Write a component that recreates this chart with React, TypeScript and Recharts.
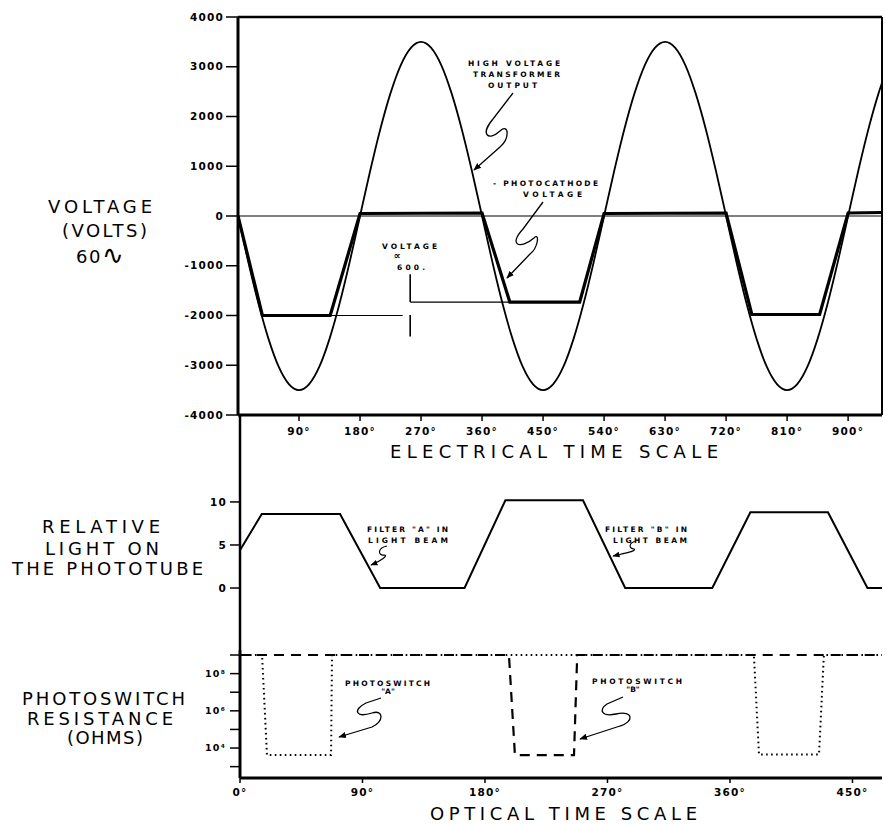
import React from "react";
import { LineChart, Line, XAxis, YAxis, ReferenceLine } from "recharts";

const FONT = "'DejaVu Sans', Verdana, sans-serif";

// electrical time scale (degrees) and the two voltage traces
const elecDeg = [
  0, 15, 30, 45, 60, 75, 90, 105, 120, 135, 150, 165, 180, 195, 210, 225, 240, 255, 270, 285, 300, 315,
  330, 345, 360, 375, 390, 405, 420, 435, 450, 465, 480, 495, 510, 525, 540, 555, 570, 585, 600, 615,
  630, 645, 660, 675, 690, 705, 720, 735, 750, 765, 780, 795, 810, 825, 840, 855, 870, 885, 900, 915,
  930, 945, 950,
];
const hvVolts = [
  0, -910, -1750, -2470, -3030, -3380, -3500, -3380, -3030, -2470, -1750, -910, 0, 910, 1750, 2470,
  3030, 3380, 3500, 3380, 3030, 2470, 1750, 910, 0, -910, -1750, -2470, -3030, -3380, -3500, -3380,
  -3030, -2470, -1750, -910, 0, 910, 1750, 2470, 3030, 3380, 3500, 3380, 3030, 2470, 1750, 910, 0,
  -910, -1750, -2470, -3030, -3380, -3500, -3380, -3030, -2470, -1750, -910, 0, 910, 1750, 2470, 2680,
];
const pcDeg = [0, 36, 136, 180, 360, 401, 504, 540, 720, 758, 858, 900, 950];
const pcVolts = [0, -2000, -2000, 50, 60, -1730, -1730, 50, 60, -1980, -1980, 60, 70];
const elecTicks = [90, 180, 270, 360, 450, 540, 630, 720, 810, 900];
const voltTicks = [-4000, -3000, -2000, -1000, 0, 1000, 2000, 3000, 4000];

// relative light on the phototube (optical degrees)
const lightDeg = [0, 16, 73.5, 103, 165, 195, 252, 283, 347, 375, 432, 461, 472];
const lightLevel = [4.4, 8.6, 8.6, 0, 0, 10.2, 10.2, 0, 0, 8.8, 8.8, 0, 0];
const lightTicks = [0, 5, 10];

// photoswitch resistance (ohms)
const switchADeg = [0, 16.2, 19.8, 66.9, 67.6, 377.6, 381.3, 425.4, 429, 472];
const switchAOhms = [1e9, 1e9, 4200, 4200, 1e9, 1e9, 4500, 4500, 1e9, 1e9];
const switchBDeg = [0, 197.6, 202, 245.4, 247.6, 247.6, 472];
const switchBOhms = [1e9, 1e9, 4200, 4200, 4.2e8, 1e9, 1e9];
const optTicks = [0, 90, 180, 270, 360, 450];
const ohmTicks = [1e3, 1e4, 1e5, 1e6, 1e7, 1e8, 1e9];
const ohmLabels: Record<number, string> = { 4: "10⁴", 6: "10⁶", 8: "10⁸" };

const zip = (xs: number[], ys: number[]) => xs.map((x, i) => ({ deg: x, v: ys[i] }));

const tickStyle = { fill: "#000", fontSize: 10.5, fontWeight: 700, fontFamily: FONT, letterSpacing: 1.2 };
const axisStyle = { stroke: "#000", strokeWidth: 3 };
const tickLine = { stroke: "#000", strokeWidth: 1.5 };

const big = { fontFamily: FONT, fontSize: 18, fill: "#000" } as const;
const small = { fontFamily: FONT, fontSize: 7.5, fontWeight: 700, fill: "#000" } as const;

const Label = ({ x, y, w, children, s = big }: any) => (
  <text x={x} y={y} textLength={w} lengthAdjust="spacing" style={s}>
    {children}
  </text>
);

export default function App() {
  const hvData = zip(elecDeg, hvVolts);
  const pcData = zip(pcDeg, pcVolts);
  const lightData = zip(lightDeg, lightLevel);
  const aData = zip(switchADeg, switchAOhms);
  const bData = zip(switchBDeg, switchBOhms);

  return (
    <div style={{ position: "absolute", left: 0, top: 0, width: 886, height: 824, background: "#fff" }}>
      <div style={{ position: "absolute", left: 0, top: 0 }}>
        <LineChart width={886} height={440} margin={{ top: 17, right: 4, bottom: 0, left: 0 }}>
          <XAxis
            dataKey="deg"
            type="number"
            domain={[0, 950]}
            ticks={elecTicks}
            interval={0}
            tickFormatter={(d) => `${d}°`}
            height={25}
            tickSize={6}
            tickMargin={7}
            axisLine={axisStyle}
            tickLine={tickLine}
            tick={tickStyle}
            allowDataOverflow
          />
          <YAxis
            type="number"
            domain={[-4000, 4000]}
            ticks={voltTicks}
            interval={0}
            width={238}
            tickSize={12}
            tickMargin={2}
            axisLine={axisStyle}
            tickLine={tickLine}
            tick={tickStyle}
            allowDataOverflow
          />
          <ReferenceLine y={4000} stroke="#000" strokeWidth={2.5} />
          <ReferenceLine x={950} stroke="#000" strokeWidth={2} />
          <ReferenceLine y={0} stroke="#000" strokeWidth={1.2} />
          <ReferenceLine segment={[{ x: 136, y: -2000 }, { x: 243, y: -2000 }]} stroke="#000" strokeWidth={1} />
          <ReferenceLine segment={[{ x: 254, y: -1730 }, { x: 401, y: -1730 }]} stroke="#000" strokeWidth={1.2} />
          <ReferenceLine segment={[{ x: 254, y: -1170 }, { x: 254, y: -1730 }]} stroke="#000" strokeWidth={1.6} />
          <ReferenceLine segment={[{ x: 254, y: -1990 }, { x: 254, y: -2420 }]} stroke="#000" strokeWidth={1.6} />
          <Line data={hvData} dataKey="v" type="monotone" stroke="#000" strokeWidth={1.8} dot={false} isAnimationActive={false} />
          <Line data={pcData} dataKey="v" type="linear" stroke="#000" strokeWidth={3.2} dot={false} isAnimationActive={false} />
        </LineChart>
      </div>

      <div style={{ position: "absolute", left: 0, top: 415 }}>
        <LineChart width={886} height={235} margin={{ top: 0, right: 4, bottom: 0, left: 0 }}>
          <XAxis dataKey="deg" type="number" domain={[0, 471.7]} hide allowDataOverflow />
          <YAxis
            type="number"
            domain={[-7.2, 20.1]}
            ticks={lightTicks}
            interval={0}
            width={240}
            tickSize={10}
            tickMargin={3}
            axisLine={{ stroke: "#000", strokeWidth: 2.5 }}
            tickLine={tickLine}
            tick={tickStyle}
            allowDataOverflow
          />
          <Line data={lightData} dataKey="v" type="linear" stroke="#000" strokeWidth={2} dot={false} isAnimationActive={false} />
        </LineChart>
      </div>

      <div style={{ position: "absolute", left: 0, top: 650 }}>
        <LineChart width={886} height={152} margin={{ top: 0, right: 4, bottom: 0, left: 0 }}>
          <XAxis
            dataKey="deg"
            type="number"
            domain={[0, 471.7]}
            ticks={optTicks}
            interval={0}
            tickFormatter={(d) => `${d}°`}
            height={24}
            tickSize={5}
            tickMargin={6}
            axisLine={axisStyle}
            tickLine={tickLine}
            tick={tickStyle}
            allowDataOverflow
          />
          <YAxis
            type="number"
            scale="log"
            domain={[245, 1.86e9]}
            ticks={ohmTicks}
            interval={0}
            width={240}
            tickSize={10}
            tickMargin={4}
            tickFormatter={(v) => ohmLabels[Math.round(Math.log10(v))] ?? ""}
            axisLine={axisStyle}
            tickLine={tickLine}
            tick={{ ...tickStyle, fontSize: 9.5 }}
            allowDataOverflow
          />
          <Line data={aData} dataKey="v" type="linear" stroke="#000" strokeWidth={2} strokeDasharray="1.6 3.4" dot={false} isAnimationActive={false} />
          <Line data={bData} dataKey="v" type="linear" stroke="#000" strokeWidth={2.2} strokeDasharray="10 7" dot={false} isAnimationActive={false} />
        </LineChart>
      </div>

      <svg width={886} height={824} style={{ position: "absolute", left: 0, top: 0, pointerEvents: "none" }}>
        <defs>
          <marker id="ah" viewBox="0 0 10 10" refX="9" refY="5" markerWidth="6" markerHeight="6" orient="auto">
            <path d="M0,1 L10,5 L0,9 z" fill="#000" />
          </marker>
        </defs>

        <Label x={48} y={213} w={104}>VOLTAGE</Label>
        <Label x={62} y={237} w={85}>(VOLTS)</Label>
        <text x={76} y={263} style={{ ...big, letterSpacing: 1.5 }}>
          60<tspan style={{ fontSize: 26 }} dy={1}>∿</tspan>
        </text>

        <Label x={42} y={533} w={118}>RELATIVE</Label>
        <Label x={45} y={555} w={114}>LIGHT ON</Label>
        <Label x={12} y={575} w={191}>THE PHOTOTUBE</Label>

        <Label x={22} y={705} w={163}>PHOTOSWITCH</Label>
        <Label x={27} y={725} w={146}>RESISTANCE</Label>
        <Label x={67} y={744} w={76}>(OHMS)</Label>

        <Label x={390} y={458} w={328}>ELECTRICAL TIME SCALE</Label>
        <Label x={430} y={820} w={267}>OPTICAL TIME SCALE</Label>

        <Label x={468} y={66} w={92} s={small}>HIGH VOLTAGE</Label>
        <Label x={473} y={77} w={87} s={small}>TRANSFORMER</Label>
        <Label x={488} y={88} w={49} s={small}>OUTPUT</Label>
        <path d="M513,93 L493,119 C480,134 488,142 500,131 C509,123 510,138 500,147 L474,170" fill="none" stroke="#000" strokeWidth={1.3} markerEnd="url(#ah)" />

        <Label x={493} y={186} w={105} s={small}>- PHOTOCATHODE</Label>
        <Label x={523} y={197} w={59} s={small}>VOLTAGE</Label>
        <path d="M543,202 L523,229 C508,245 520,250 534,238 C540,232 538,248 530,254 L507,278" fill="none" stroke="#000" strokeWidth={1.3} markerEnd="url(#ah)" />

        <Label x={382} y={249} w={55} s={small}>VOLTAGE</Label>
        <text x={397} y={259} textAnchor="middle" style={{ ...small, fontSize: 10 }}>∝</text>
        <Label x={397} y={270} w={28} s={small}>600.</Label>

        <Label x={367} y={532} w={81} s={small}>FILTER "A" IN</Label>
        <Label x={368} y={543} w={80} s={small}>LIGHT BEAM</Label>
        <path d="M387,546 C377,548 378,556 384,555 C389,555 381,561 371,565" fill="none" stroke="#000" strokeWidth={1.2} markerEnd="url(#ah)" />

        <Label x={605} y={532} w={82} s={small}>FILTER "B" IN</Label>
        <Label x={613} y={543} w={74} s={small}>LIGHT BEAM</Label>
        <path d="M636,541 C628,543 629,549 634,549 C637,551 626,553 613,556" fill="none" stroke="#000" strokeWidth={1.2} markerEnd="url(#ah)" />

        <Label x={345} y={686} w={85} s={small}>PHOTOSWITCH</Label>
        <text x={388} y={694} textAnchor="middle" style={small}>"A"</text>
        <path d="M381,698 L366,703 C352,710 356,718 372,713 C384,709 384,722 372,727 L339,737" fill="none" stroke="#000" strokeWidth={1.3} markerEnd="url(#ah)" />

        <Label x={592} y={684} w={90} s={small}>PHOTOSWITCH</Label>
        <text x={633} y={692} textAnchor="middle" style={small}>"B"</text>
        <path d="M623,697 L607,704 C598,710 602,717 616,714 C634,710 634,722 620,726 L580,739" fill="none" stroke="#000" strokeWidth={1.3} markerEnd="url(#ah)" />
      </svg>
    </div>
  );
}
